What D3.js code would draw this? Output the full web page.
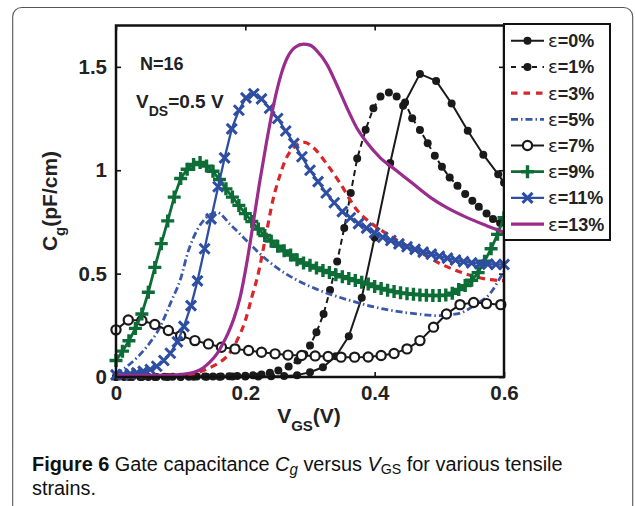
<!DOCTYPE html>
<html>
<head>
<meta charset="utf-8">
<script src="https://d3js.org/d3.v7.min.js"></script>
<style>
  body { margin: 0; background: #fff; }
</style>
</head>
<body>
<script>
// values: [V_GS (V), C_g (pF/cm)]
var eps0 = [[0,0],[0.02,0],[0.04,0],[0.06,0],[0.08,0],[0.10,0],[0.12,0.001],[0.14,0.001],
  [0.16,0.001],[0.18,0.002],[0.20,0.002],[0.22,0.003],[0.24,0.004],[0.26,0.005],[0.28,0.009],
  [0.30,0.023],[0.32,0.047],[0.34,0.100],[0.36,0.197],[0.38,0.383],[0.40,0.675],[0.424,1.035],
  [0.444,1.312],[0.47,1.466],[0.495,1.432],[0.519,1.323],[0.544,1.191],[0.568,1.075],
  [0.591,0.980],[0.60,0.940]];
var eps1 = [[0,0],[0.0125,0],[0.025,0],[0.0375,0],[0.05,0],[0.0625,0],[0.075,0.001],[0.0875,0.001],
  [0.1,0.001],[0.1125,0.001],[0.125,0.002],[0.1375,0.002],[0.15,0.003],[0.1625,0.003],[0.175,0.004],
  [0.1875,0.005],[0.2,0.006],[0.212,0.008],[0.225,0.012],[0.238,0.02],[0.251,0.032],[0.267,0.051],
  [0.281,0.08],[0.291,0.11],[0.30,0.152],[0.31,0.216],[0.321,0.305],[0.331,0.421],[0.342,0.559],
  [0.353,0.721],[0.363,0.89],[0.373,1.057],[0.386,1.196],[0.398,1.30],[0.409,1.357],[0.422,1.376],
  [0.434,1.357],[0.447,1.328],[0.458,1.252],[0.47,1.194],[0.482,1.131],[0.493,1.07],[0.504,1.017],
  [0.516,0.965],[0.528,0.925],[0.54,0.885],[0.551,0.853],[0.561,0.824],[0.573,0.791],[0.583,0.764],
  [0.594,0.745]];
var eps3 = [[0,0],[0.05,0.002],[0.1,0.007],[0.12,0.016],[0.145,0.045],[0.16,0.07],[0.171,0.098],
  [0.187,0.176],[0.2,0.273],[0.21,0.386],[0.22,0.50],[0.23,0.655],[0.243,0.86],[0.254,0.98],
  [0.262,1.05],[0.272,1.10],[0.282,1.127],[0.292,1.135],[0.305,1.11],[0.326,1.03],[0.346,0.94],
  [0.372,0.81],[0.39,0.755],[0.41,0.71],[0.43,0.67],[0.45,0.635],[0.475,0.595],[0.5,0.55],
  [0.527,0.514],[0.55,0.49],[0.575,0.472],[0.6,0.466]];
var eps5 = [[0,0.015],[0.022,0.064],[0.047,0.144],[0.068,0.241],[0.086,0.37],[0.099,0.466],
  [0.112,0.611],[0.125,0.708],[0.14,0.772],[0.156,0.796],[0.176,0.74],[0.197,0.675],[0.223,0.595],
  [0.248,0.53],[0.279,0.47],[0.31,0.425],[0.362,0.37],[0.413,0.329],[0.465,0.305],[0.496,0.297],
  [0.527,0.305],[0.558,0.354],[0.578,0.402],[0.596,0.49],[0.6,0.51]];
var eps7 = [[0,0.228],[0.019,0.276],[0.04,0.273],[0.06,0.254],[0.081,0.225],[0.10,0.200],
  [0.122,0.176],[0.143,0.16],[0.163,0.144],[0.184,0.136],[0.205,0.128],[0.225,0.12],[0.246,0.112],
  [0.266,0.106],[0.287,0.104],[0.308,0.102],[0.328,0.099],[0.348,0.096],[0.369,0.096],[0.39,0.097],
  [0.41,0.104],[0.43,0.114],[0.45,0.136],[0.47,0.176],[0.491,0.241],[0.511,0.305],[0.532,0.35],
  [0.553,0.36],[0.573,0.355],[0.595,0.35]];
var eps9 = [[0,0.08],[0.01,0.125],[0.02,0.175],[0.03,0.235],[0.04,0.305],[0.05,0.41],[0.06,0.53],
  [0.07,0.645],[0.08,0.755],[0.09,0.87],[0.10,0.96],[0.11,1.005],[0.12,1.028],[0.13,1.038],
  [0.14,1.02],[0.15,0.995],[0.16,0.955],[0.17,0.91],[0.18,0.87],[0.19,0.83],[0.20,0.79],
  [0.21,0.752],[0.22,0.716],[0.23,0.684],[0.24,0.657],[0.25,0.632],[0.26,0.61],[0.27,0.59],
  [0.28,0.567],[0.29,0.551],[0.30,0.54],[0.31,0.527],[0.32,0.515],[0.33,0.505],[0.34,0.495],
  [0.35,0.485],[0.36,0.476],[0.37,0.467],[0.38,0.458],[0.39,0.45],[0.40,0.438],[0.41,0.428],
  [0.42,0.42],[0.43,0.413],[0.44,0.407],[0.45,0.403],[0.46,0.40],[0.47,0.397],[0.48,0.395],
  [0.49,0.394],[0.50,0.394],[0.51,0.396],[0.52,0.405],[0.53,0.423],[0.54,0.442],[0.55,0.468],
  [0.56,0.505],[0.57,0.56],[0.58,0.62],[0.59,0.69],[0.60,0.77]];
var eps11 = [[0,0.01],[0.011,0.012],[0.022,0.015],[0.032,0.02],[0.042,0.027],[0.053,0.036],
  [0.063,0.052],[0.074,0.08],[0.084,0.115],[0.095,0.17],[0.105,0.245],[0.116,0.345],[0.126,0.465],
  [0.137,0.62],[0.147,0.765],[0.158,0.92],[0.168,1.06],[0.179,1.2],[0.19,1.29],[0.201,1.35],
  [0.213,1.37],[0.225,1.345],[0.2375,1.30],[0.25,1.25],[0.2625,1.19],[0.275,1.13],[0.2875,1.065],
  [0.30,1.0],[0.3125,0.945],[0.325,0.89],[0.3375,0.843],[0.35,0.80],[0.3625,0.77],[0.375,0.742],
  [0.3875,0.72],[0.40,0.697],[0.4125,0.676],[0.425,0.66],[0.4375,0.644],[0.45,0.63],[0.4625,0.617],
  [0.475,0.604],[0.4875,0.594],[0.50,0.584],[0.5125,0.575],[0.525,0.566],[0.5375,0.558],
  [0.55,0.552],[0.5625,0.548],[0.575,0.546],[0.5875,0.544],[0.60,0.544]];
var eps13 = [[0,0.008],[0.05,0.008],[0.08,0.009],[0.1,0.012],[0.114,0.018],[0.125,0.028],
  [0.135,0.045],[0.145,0.072],[0.156,0.112],[0.165,0.16],[0.173,0.21],[0.182,0.28],[0.192,0.386],
  [0.202,0.547],[0.212,0.74],[0.222,0.94],[0.233,1.14],[0.244,1.32],[0.255,1.46],[0.265,1.545],
  [0.277,1.595],[0.29,1.61],[0.30,1.605],[0.31,1.58],[0.326,1.513],[0.341,1.416],[0.357,1.303],
  [0.372,1.207],[0.388,1.134],[0.408,1.062],[0.434,0.998],[0.46,0.933],[0.486,0.869],[0.511,0.82],
  [0.542,0.772],[0.573,0.732],[0.60,0.70]];

var legendNames = ["0%", "1%", "3%", "5%", "7%", "9%", "11%", "13%"];
var xTicks = [0, 0.2, 0.4, 0.6];
var xTickLabels = ["0", "0.2", "0.4", "0.6"];
var yTicks = [0, 0.5, 1, 1.5];
var yTickLabels = ["0", "0.5", "1", "1.5"];

// drawing styles, one per curve
var styles = [
  {data: eps0,  color: "#1a1a1a", width: 2,   dash: null,        marker: "dot",    smooth: false},
  {data: eps1,  color: "#1a1a1a", width: 2,   dash: "6,4",       marker: "dot",    smooth: false},
  {data: eps3,  color: "#d9262a", width: 3.2, dash: "7,5",       marker: null,     smooth: true},
  {data: eps5,  color: "#3a58a8", width: 2.8, dash: "7,3,1.5,3", marker: null,     smooth: true},
  {data: eps7,  color: "#1a1a1a", width: 2,   dash: null,        marker: "circle", smooth: false},
  {data: eps9,  color: "#0c6e36", width: 2.8, dash: null,        marker: "plus",   smooth: false},
  {data: eps11, color: "#2e4ea2", width: 2.3, dash: null,        marker: "cross",  smooth: false},
  {data: eps13, color: "#9a2c8c", width: 3.2, dash: null,        marker: null,     smooth: true}
];

var svg = d3.select("body").append("svg")
  .attr("width", 635).attr("height", 506)
  .style("font-family", "'Liberation Sans', Arial, sans-serif");

// outer figure frame (rounded, runs off the bottom)
svg.append("rect")
  .attr("x", 12.7).attr("y", 7.5).attr("width", 620).attr("height", 560).attr("rx", 9)
  .attr("fill", "none").attr("stroke", "#555").attr("stroke-width", 1.1);

var x = d3.scaleLinear().domain([0, 0.6]).range([116, 504]);
var y = d3.scaleLinear().domain([0, 1.7]).range([377, 25.5]);

function styleAxis(g) {
  g.select(".domain").remove();
  g.selectAll(".tick line").attr("stroke", "#111").attr("stroke-width", 1.6);
  g.selectAll(".tick text")
    .attr("fill", "#222")
    .style("font-family", "'Liberation Sans', Arial, sans-serif")
    .style("font-size", "20.5px").style("font-weight", "bold");
}

svg.append("g").attr("transform", "translate(0,377)")
  .call(d3.axisBottom(x).tickValues(xTicks).tickFormat(function(d, i) { return xTickLabels[i]; })
    .tickSizeInner(-5).tickSizeOuter(0).tickPadding(8))
  .call(styleAxis);
svg.append("g").attr("transform", "translate(116,0)")
  .call(d3.axisLeft(y).tickValues(yTicks).tickFormat(function(d, i) { return yTickLabels[i]; })
    .tickSizeInner(-5).tickSizeOuter(0).tickPadding(9))
  .call(styleAxis);
svg.append("g").attr("transform", "translate(0,25.5)")
  .call(d3.axisTop(x).tickValues(xTicks).tickFormat("").tickSizeInner(-5).tickSizeOuter(0))
  .call(styleAxis);
svg.append("g").attr("transform", "translate(504,0)")
  .call(d3.axisRight(y).tickValues(yTicks).tickFormat("").tickSizeInner(-5).tickSizeOuter(0))
  .call(styleAxis);

// markers
function marker(g, type, cx, cy, color) {
  if (type === "dot") {
    g.append("circle").attr("cx", cx).attr("cy", cy).attr("r", 4).attr("fill", color);
  } else if (type === "circle") {
    g.append("circle").attr("cx", cx).attr("cy", cy).attr("r", 4.6)
      .attr("fill", "#fff").attr("stroke", color).attr("stroke-width", 2.2);
  } else if (type === "plus") {
    var p = 6.5;
    g.append("path").attr("d", "M" + (cx - p) + "," + cy + "H" + (cx + p) + "M" + cx + "," + (cy - p) + "V" + (cy + p))
      .attr("stroke", color).attr("stroke-width", 3.4).attr("fill", "none");
  } else if (type === "cross") {
    var s = 5;
    g.append("path").attr("d", "M" + (cx - s) + "," + (cy - s) + "L" + (cx + s) + "," + (cy + s) +
        "M" + (cx - s) + "," + (cy + s) + "L" + (cx + s) + "," + (cy - s))
      .attr("stroke", color).attr("stroke-width", 3).attr("fill", "none");
  }
}

var plot = svg.append("g");
styles.forEach(function(s) {
  var line = d3.line()
    .x(function(d) { return x(d[0]); })
    .y(function(d) { return y(d[1]); })
    .curve(s.smooth ? d3.curveMonotoneX : d3.curveLinear);
  var g = plot.append("g");
  g.append("path").datum(s.data).attr("d", line)
    .attr("fill", "none").attr("stroke", s.color).attr("stroke-width", s.width)
    .attr("stroke-dasharray", s.dash).attr("stroke-linejoin", "round");
  if (s.marker) {
    s.data.forEach(function(d) { marker(g, s.marker, x(d[0]), y(d[1]), s.color); });
  }
});

// plot box
svg.append("rect").attr("x", 116).attr("y", 25.5).attr("width", 388).attr("height", 351.5)
  .attr("fill", "none").attr("stroke", "#111").attr("stroke-width", 2.5);

// in-plot annotations
svg.append("text").attr("x", 140).attr("y", 70)
  .style("font-size", "18px").style("font-weight", "bold").attr("fill", "#222").text("N=16");
var vds = svg.append("text").attr("x", 136).attr("y", 108)
  .style("font-size", "19px").style("font-weight", "bold").attr("fill", "#222");
vds.append("tspan").text("V");
vds.append("tspan").attr("dy", 8).style("font-size", "14px").text("DS");
vds.append("tspan").attr("dy", -8).text("=0.5 V");

// axis titles
var xt = svg.append("text").attr("x", 309).attr("y", 423).attr("text-anchor", "middle")
  .style("font-size", "21px").style("font-weight", "bold").attr("fill", "#222");
xt.append("tspan").text("V");
xt.append("tspan").attr("dy", 8).style("font-size", "15px").text("GS");
xt.append("tspan").attr("dy", -8).text("(V)");

var yt = svg.append("text").attr("transform", "translate(57,201) rotate(-90)").attr("text-anchor", "middle")
  .style("font-size", "21px").style("font-weight", "bold").attr("fill", "#222");
yt.append("tspan").text("C");
yt.append("tspan").attr("dy", 8).style("font-size", "15px").text("g");
yt.append("tspan").attr("dy", -8).text("(pF/cm)");

// legend
var leg = svg.append("g");
leg.append("rect").attr("x", 504).attr("y", 24).attr("width", 106).attr("height", 216)
  .attr("fill", "#fff").attr("stroke", "#111").attr("stroke-width", 2);
styles.forEach(function(s, i) {
  var cy = 40.7 + i * 26.2;
  var g = leg.append("g");
  g.append("line").attr("x1", 511).attr("x2", 544).attr("y1", cy).attr("y2", cy)
    .attr("stroke", s.color).attr("stroke-width", s.width)
    .attr("stroke-dasharray", s.dash === "7,5" ? "6.5,6" : (s.dash === "6,4" ? "5,5.5" : s.dash));
  if (s.marker) marker(g, s.marker, 527.5, cy, s.color);
  var t = g.append("text").attr("x", 548).attr("y", cy + 6.5)
    .style("font-size", "18px").style("font-weight", "bold").attr("fill", "#222");
  t.append("tspan").style("font-weight", "normal").style("font-family", "'DejaVu Sans', sans-serif").text("\u03b5");
  t.append("tspan").text("=" + legendNames[i]);
});

// caption, two lines, fitted to the original line width
var capFont = "'Liberation Sans', Arial, sans-serif";
var capG = svg.append("g");
var cap1 = capG.append("text").attr("x", 32).attr("y", 471.5)
  .style("font-family", capFont).style("font-size", "21px").attr("fill", "#111");
cap1.append("tspan").style("font-weight", "bold").text("Figure 6");
cap1.append("tspan").text(" Gate capacitance ");
cap1.append("tspan").style("font-style", "italic").text("C");
cap1.append("tspan").style("font-style", "italic").attr("dy", 4).style("font-size", "16px").text("g");
cap1.append("tspan").attr("dy", -4).text(" versus ");
cap1.append("tspan").style("font-style", "italic").text("V");
cap1.append("tspan").attr("dy", 3).style("font-size", "15px").text("GS");
cap1.append("tspan").attr("dy", -3).text(" for various tensile");
capG.append("text").attr("x", 32).attr("y", 495.5)
  .style("font-family", capFont).style("font-size", "21px").attr("fill", "#111").text("strains.");
var k = 531 / cap1.node().getComputedTextLength();
capG.attr("transform", "translate(32,0) scale(" + k + ",1) translate(-32,0)");
</script>
</body>
</html>
